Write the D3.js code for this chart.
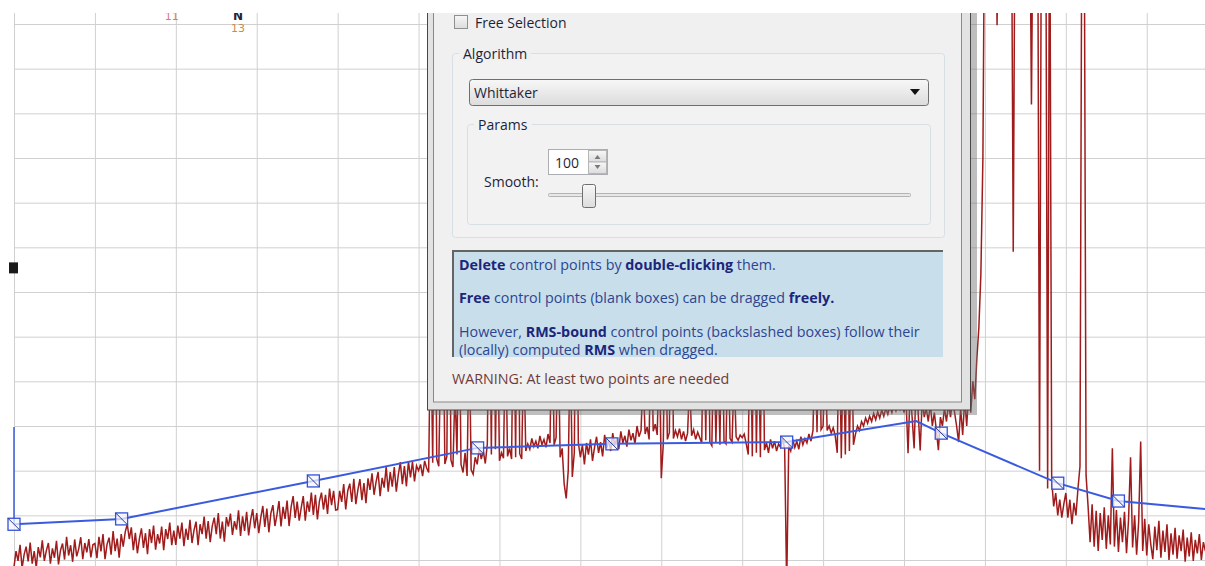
<!DOCTYPE html>
<html>
<head>
<meta charset="utf-8">
<script src="https://cdn.jsdelivr.net/npm/d3@7"></script>
<style>
body{margin:0;background:#fff;}
svg{display:block;}
</style>
</head>
<body>
<div id="main"></div>
<script>
// spectrum counts, one value every 2.5 channels starting at channel 0 (two lines = 100 channels)
const chStep = 2.5
const counts = [
  -15, 20, -2, 34, -18, 12, 30, -3, 39, -8, 20, -17, 29, 6, 44, -2, 21, 38, -8, 26,
  5, 43, -10, 22, 37, 1, 52, 10, 33, -4, 46, 8, 25, 51, 2, 38, 17, 47, 6, 34,
  37, 4, 52, 19, 58, 2, 35, 50, 12, 65, 20, 48, 5, 58, 30, 63, 80, 47, 73, 22,
  61, 15, 48, 71, 27, 60, 13, 69, 38, 77, 23, 58, 37, 75, 22, 69, 47, 84, 33, 66,
  34, 77, 48, 84, 31, 70, 45, 90, 38, 67, 86, 33, 80, 58, 97, 48, 87, 40, 76, 95,
  58, 105, 48, 86, 41, 96, 75, 104, 56, 87, 68, 111, 54, 98, 65, 108, 55, 90, 114, 71,
  105, 60, 95, 121, 74, 115, 62, 105, 123, 76, 101, 132, 75, 119, 92, 133, 76, 119, 143, 94,
  131, 88, 117, 143, 88, 131, 108, 151, 101, 146, 91, 132, 151, 113, 146, 103, 160, 123, 155, 112,
  113, 155, 130, 170, 113, 155, 171, 130, 182, 125, 157, 181, 134, 172, 127, 183, 157, 194, 146, 175,
  197, 143, 184, 162, 209, 153, 197, 164, 208, 153, 191, 219, 170, 210, 165, 221, 185, 220, 176, 211,
  200, 214, 188, 222, 206, 196, 560, 218, 820, 226, 210, 480, 650, 215, 232, 900, 224, 208, 380, 236,
  600, 214, 196, 240, 188, 520, 202, 192, 230, 214, 250, 226, 244, 216, 260, 700, 236, 900, 248, 560,
  222, 240, 228, 520, 232, 250, 226, 640, 230, 900, 238, 226, 480, 244, 260, 248, 272, 254, 266, 250,
  278, 258, 270, 252, 282, 262, 600, 258, 274, 520, 230, 250, 170, 138, 200, 500, 186, 240, 800, 262,
  230, 258, 214, 262, 236, 270, 222, 252, 276, 240, 264, 232, 280, 250, 268, 244, 284, 256, 272, 248,
  288, 262, 278, 254, 292, 268, 284, 260, 300, 276, 290, 420, 282, 298, 270, 560, 288, 304, 280, 480,
  183, 260, 600, 270, 285, 760, 272, 290, 276, 294, 270, 288, 266, 284, 400, 278, 292, 270, 286, 274,
  262, 600, 268, 700, 264, 256, 520, 262, 470, 258, 640, 266, 260, 500, 272, 264, 420, 276, 268, 280,
  274, 282, 260, 236, 600, 232, 800, 240, 540, 230, 700, 246, 262, 240, 270, 250, 266, 244, 260, 252,
  272, 248, -60, 256, 244, 270, 252, 266, 248, 276, 258, 272, 262, 282, 266, 290, 520, 286, 620, 292,
  300, 480, 290, 300, 284, 296, 278, 240, 560, 228, 500, 236, 620, 244, 540, 258, 282, 300, 290, 310,
  300, 318, 306, 322, 310, 328, 314, 332, 318, 336, 322, 340, 326, 344, 330, 348, 334, 352, 338, 356,
  330, 360, 239, 380, 320, 250, 400, 330, 245, 360, 320, 340, 310, 350, 300, 330, 290, 246, 320, 300,
  340, 310, 350, 320, 360, 330, 300, 264, 340, 280, 360, 300, 380, 330, 400, 360, 450, 520, 640, 900,
  1600, 1600, 1600, 1600, 1600, 1600, 1197, 1600, 1600, 1600, 1600, 1600, 1600, 1600, 690, 1600, 1600, 1600, 1600, 1600,
  1600, 1600, 1600, 1020, 1600, 1600, 1600, 200, 1600, 1600, 1600, 160, 1600, 180, 120, 150, 100, 135, 95, 125,
  150, 95, 135, 80, 128, 100, 160, 210, 1600, 1600, 190, 120, 40, 125, 30, 110, 20, 105, 45, 118,
  25, 100, 35, 250, 30, 112, 18, 95, 40, 108, 15, 90, 230, 28, 100, 12, 85, 265, 20, 92,
  10, 80, 35, 2, 75, 22, 88, 5, 66, 18, 80, 0, 60, 12, 72, 3, 55, 20, 68, -4, 
  50, 8, 62, -2, 45, 15, 58, 0, 40, 20
]

// baseline through the control points (channel / counts)
const baseCh = [0, 133, 370, 573, 739, 955, 1115, 1146, 1290, 1365, 1472]
const baseI = [80, 92, 177, 251, 260, 264, 311, 284, 172, 132, 114]

// RMS-bound control points (backslashed boxes)
const ctrlCh = [0, 133, 370, 573, 739, 955, 1146, 1290, 1365]
const ctrlI = [80, 92, 177, 251, 260, 264, 284, 172, 132]

const cursorI = [80, 298]
const markerI = 654

const xTicks = [0, 100, 200, 300, 400, 500, 600, 700, 800, 900, 1000, 1100, 1200, 1300, 1400]
const yTicks = [0, 100, 200, 300, 400, 500, 600, 700, 800, 900, 1000, 1100, 1200]

// peak labels at the top
const peakCh = [195, 277, 277]
const peakI = [1208, 1210, 1181]
const peakText = ["11", "N", "13"]
const peakColor = ["#dc7482", "#23233c", "#c98a52"]

// dialog texts
const infoLines = [
  [["Delete", true], [" control points by ", false], ["double-clicking", true], [" them.", false]],
  [["Free", true], [" control points (blank boxes) can be dragged ", false], ["freely.", true]],
  [["However, ", false], ["RMS-bound", true], [" control points (backslashed boxes) follow their", false]],
  [["(locally) computed ", false], ["RMS", true], [" when dragged.", false]]
]
const infoY = [264, 297, 331, 349]
const warningText = "WARNING: At least two points are needed"

const font = "'Open Sans', 'DejaVu Sans', sans-serif"

function initViz()
{
    let svg = d3.select("#main").append("svg")
        .attr("width", 1205)
        .attr("height", 566)

    svg.append("rect").attr("width", 1205).attr("height", 566).attr("fill", "#fff")

    let defs = svg.append("defs")
    defs.append("clipPath").attr("id", "view")
        .append("rect").attr("x", 0).attr("y", 13).attr("width", 1205).attr("height", 553)

    let grad = defs.append("linearGradient").attr("id", "btn").attr("x1", 0).attr("y1", 0).attr("x2", 0).attr("y2", 1)
    grad.append("stop").attr("offset", "0%").attr("stop-color", "#f7f7f7")
    grad.append("stop").attr("offset", "100%").attr("stop-color", "#dcdcdc")

    drawChart(svg)
    drawDialog(svg)
}

function drawChart(svg)
{
    let x = d3.scaleLinear().domain([0, 1472]).range([14, 1205])
    let y = d3.scaleLinear().domain([0, 1200]).range([560, 24])

    let g = svg.append("g").attr("clip-path", "url(#view)")

    // grid
    let gx = g.append("g").attr("transform", "translate(0,566)")
        .call(d3.axisBottom(x).tickValues(xTicks).tickSize(-560).tickFormat(""))
    let gy = g.append("g").attr("transform", "translate(14,0)")
        .call(d3.axisLeft(y).tickValues(yTicks).tickSize(-1191).tickFormat(""))
    gx.select(".domain").remove()
    gy.select(".domain").remove()
    g.selectAll(".tick line").attr("stroke", "#d0d0d0")

    // spectrum
    let line = d3.line()
        .x((d, i) => x(i * chStep))
        .y(d => y(d))
    g.append("path")
        .datum(counts)
        .attr("fill", "none")
        .attr("stroke", "#a01b1b")
        .attr("stroke-width", 1.5)
        .attr("d", line)

    // cursor + marker
    g.append("line")
        .attr("x1", x(0)).attr("x2", x(0))
        .attr("y1", y(cursorI[0])).attr("y2", y(cursorI[1]))
        .attr("stroke", "#3a5be0").attr("stroke-width", 1.5)
    g.append("rect")
        .attr("x", x(0) - 5).attr("y", y(markerI) - 5.5)
        .attr("width", 9).attr("height", 11)
        .attr("fill", "#1a1a1a")

    // baseline
    let baseLine = d3.line()
        .x((d, i) => x(baseCh[i]))
        .y(d => y(d))
    g.append("path")
        .datum(baseI)
        .attr("fill", "none")
        .attr("stroke", "#3a5be0")
        .attr("stroke-width", 2)
        .attr("d", baseLine)

    let boxes = g.selectAll(".ctrl")
        .data(ctrlI)
        .enter()
        .append("g")
        .attr("class", "ctrl")
        .attr("transform", (d, i) => "translate(" + x(ctrlCh[i]) + "," + y(d) + ")")
    boxes.append("rect")
        .attr("x", -6).attr("y", -6).attr("width", 12).attr("height", 12)
        .attr("fill", "#f4f6ff").attr("fill-opacity", 0.75)
        .attr("stroke", "#3452d8").attr("stroke-width", 1.3)
    boxes.append("line")
        .attr("x1", -6).attr("y1", -6).attr("x2", 6).attr("y2", 6)
        .attr("stroke", "#2a3a90").attr("stroke-width", 1)

    // peak labels
    g.selectAll(".peak")
        .data(peakText)
        .enter()
        .append("text")
        .attr("class", "peak")
        .attr("x", (d, i) => x(peakCh[i]))
        .attr("y", (d, i) => y(peakI[i]))
        .attr("text-anchor", "middle")
        .attr("font-family", "'DejaVu Sans', sans-serif")
        .attr("font-size", (d, i) => i == 1 ? 12 : 11)
        .attr("font-weight", (d, i) => i == 1 ? "bold" : "normal")
        .attr("fill", (d, i) => peakColor[i])
        .text(d => d)
}

function drawDialog(svg)
{
    let g = svg.append("g").attr("clip-path", "url(#view)")
        .attr("font-family", font)

    // frame
    g.append("rect").attr("x", 432).attr("y", 0).attr("width", 545).attr("height", 415)
        .attr("fill", "#6e6e6e").attr("opacity", 0.45)
    g.append("rect").attr("x", 427.5).attr("y", -5).attr("width", 543).attr("height", 415)
        .attr("fill", "#e2e2e2").attr("stroke", "#474747")
    g.append("rect").attr("x", 433.5).attr("y", -5).attr("width", 528).attr("height", 407)
        .attr("fill", "#f0f0f0").attr("stroke", "#8a8a8a")

    // checkbox
    g.append("rect").attr("x", 454.5).attr("y", 15.5).attr("width", 13).attr("height", 13)
        .attr("fill", "url(#btn)").attr("stroke", "#8e8f8f")
    g.append("text").attr("x", 475).attr("y", 22).attr("dominant-baseline", "central")
        .attr("font-size", 14).attr("fill", "#1f1f3a").text("Free Selection")

    // Algorithm group
    g.append("rect").attr("x", 452.5).attr("y", 53.5).attr("width", 492).attr("height", 184).attr("rx", 3)
        .attr("fill", "#f2f2f2").attr("stroke", "#d6dfe4")
    g.append("rect").attr("x", 459).attr("y", 45).attr("width", 72).attr("height", 16).attr("fill", "#f0f0f0")
    g.append("text").attr("x", 463).attr("y", 53).attr("dominant-baseline", "central")
        .attr("font-size", 14).attr("fill", "#1f1f3a").text("Algorithm")

    // combo box
    g.append("rect").attr("x", 469.5).attr("y", 79.5).attr("width", 459).attr("height", 26).attr("rx", 3)
        .attr("fill", "url(#btn)").attr("stroke", "#6f6f6f")
    g.append("text").attr("x", 474).attr("y", 92).attr("dominant-baseline", "central")
        .attr("font-size", 14).attr("fill", "#1f1f3a").text("Whittaker")
    g.append("path").attr("d", "M910,89L920,89L915,95Z").attr("fill", "#111")

    // Params group
    g.append("rect").attr("x", 467.5).attr("y", 124.5).attr("width", 463).attr("height", 100).attr("rx", 3)
        .attr("fill", "#f2f2f2").attr("stroke", "#d6dfe4")
    g.append("rect").attr("x", 474).attr("y", 116).attr("width", 58).attr("height", 16).attr("fill", "#f2f2f2")
    g.append("text").attr("x", 478).attr("y", 124).attr("dominant-baseline", "central")
        .attr("font-size", 14).attr("fill", "#1f1f3a").text("Params")

    // spin box
    g.append("rect").attr("x", 548.5).attr("y", 149.5).attr("width", 59).attr("height", 25)
        .attr("fill", "#fff").attr("stroke", "#abadb3")
    g.append("text").attr("x", 555).attr("y", 162).attr("dominant-baseline", "central")
        .attr("font-size", 14).attr("fill", "#1f1f3a").text("100")
    g.append("rect").attr("x", 588.5).attr("y", 150.5).attr("width", 18).attr("height", 11.5)
        .attr("fill", "url(#btn)").attr("stroke", "#b6b6b6")
    g.append("rect").attr("x", 588.5).attr("y", 162).attr("width", 18).attr("height", 11.5)
        .attr("fill", "url(#btn)").attr("stroke", "#b6b6b6")
    g.append("path").attr("d", "M594.5,159L597.5,155L600.5,159Z").attr("fill", "#7a7a7a")
    g.append("path").attr("d", "M594.5,165L597.5,169L600.5,165Z").attr("fill", "#7a7a7a")

    g.append("text").attr("x", 484).attr("y", 181).attr("dominant-baseline", "central")
        .attr("font-size", 14).attr("fill", "#1f1f3a").text("Smooth:")

    // slider
    g.append("rect").attr("x", 548.5).attr("y", 193.5).attr("width", 362).attr("height", 3).attr("rx", 1)
        .attr("fill", "#e7e7e7").attr("stroke", "#b4b4b4")
    g.append("rect").attr("x", 582.5).attr("y", 184.5).attr("width", 13).attr("height", 23).attr("rx", 2)
        .attr("fill", "url(#btn)").attr("stroke", "#6f6f6f")

    // info box
    g.append("rect").attr("x", 452).attr("y", 250).attr("width", 491).attr("height", 107)
        .attr("fill", "#c9deeb")
    g.append("path").attr("d", "M452,251H943M453,250V357")
        .attr("stroke", "#646464").attr("stroke-width", 2).attr("fill", "none")

    let lines = g.selectAll(".info")
        .data(infoLines)
        .enter()
        .append("text")
        .attr("class", "info")
        .attr("x", 459)
        .attr("y", (d, i) => infoY[i])
        .attr("dominant-baseline", "central")
        .attr("font-size", 14.3)
    lines.selectAll("tspan")
        .data(d => d)
        .enter()
        .append("tspan")
        .attr("font-weight", d => d[1] ? "bold" : "normal")
        .attr("fill", d => d[1] ? "#1b267a" : "#2c4590")
        .style("white-space", "pre")
        .text(d => d[0])

    g.append("text").attr("x", 452).attr("y", 378).attr("dominant-baseline", "central")
        .attr("font-size", 14.3).attr("fill", "#6e3b3b").text(warningText)
}

initViz()
</script>
</body>
</html>
